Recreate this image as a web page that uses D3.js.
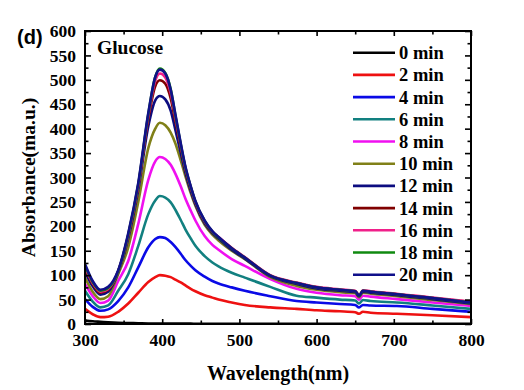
<!DOCTYPE html>
<html><head><meta charset="utf-8">
<script src="https://cdn.jsdelivr.net/npm/d3@7"></script>
<style>body{margin:0;background:#fff}svg{display:block}</style>
</head><body>
<svg id="c" width="524" height="390"></svg>
<script>
const wavelengths = [300,310,320,330,343,356,369,382,391,397,404,411,417,424,430,437,443,455,465,473,490,507,540,574,600,630,650,655,660,670,704,750,800];
const seriesNames = ["0 min","2 min","4 min","6 min","8 min","10 min","12 min","14 min","16 min","18 min","20 min"];
const seriesColors = ["#000000","#ee1111","#0a0ae6","#128080","#f010f0","#808018","#0c0c80","#800000","#f0208a","#108a10","#10108a"];
const s0  = [7,5.5,4.5,3.5,2.5,2,1.5,1,1,1,1,0.9,0.8,0.8,0.7,0.7,0.6,0.5,0.5,0.5,0.5,0.5,0.5,0.4,0.4,0.4,0.4,0.4,0.4,0.4,0.3,0.3,0.3];
const s2  = [31,20,14,15,25,42,64,86,96,100,99,96,91,85,79,72,67,59,54,50,44,39,34,31,28,26,24,21,25,23,21,18,14];
const s4  = [51,35,27,30,47,75,116,157,174,178,176,168,158,144,131,119,110,97,88,83,75,68,57,47,44,41,39,34,39,38,37,31,25];
const s6  = [68,46,34,38,68,102,160,225,253,262,259,249,234,213,194,175,160,139,126,118,105,95,76,58,54,50,48,42,49,47,44,38,31];
const s8  = [82,57,43,48,88,129,205,295,333,342,338,326,308,282,257,232,212,180,162,152,133,119,92,72,64,59,57,50,58,56,51,44,37];
const s10 = [95,66,51,57,102,157,250,360,400,412,407,392,370,335,303,268,242,203,183,171,150,133,96,78,70,65,63,55,64,62,57,49,41];
const s12 = [107,77,60,66,106,175,275,405,458,467,460,437,398,350,310,272,245,206,186,175,152,134,98,82,73,68,65,57,66,64,59,51,42];
const s14 = [114,82,64,70,108,180,282,420,487,499,492,462,416,362,317,278,249,209,188,177,155,136,99,84,75,70,67,58,68,66,61,53,45];
const s16 = [117,84,66,72,108,182,284,426,498,513,505,473,424,366,320,280,250,210,189,178,156,137,100,85,76,71,68,59,69,67,62,54,46];
const s18 = [120,86,68,74,108,183,286,430,506,523,514,481,428,368,321,281,251,211,189,177,155,136,99,84,75,70,67,58,68,66,61,53,44];
const s20 = [123,88,70,76,110,186,289,432,506,521,513,480,430,370,323,282,252,212,190,178,155,136,99,84,75,70,67,58,68,66,61,53,44];
const seriesValues = [s0,s2,s4,s6,s8,s10,s12,s14,s16,s18,s20];
const xTicks = [300,400,500,600,700,800];
const yTicks = [0,50,100,150,200,250,300,350,400,450,500,550,600];

const svg = d3.select("#c");
const L=85,R=471,T=31,B=324;
const x = d3.scaleLinear().domain([300,800]).range([L,R]);
const y = d3.scaleLinear().domain([0,600]).range([B,T]);
const serif = "'Liberation Serif','Times New Roman',serif";

svg.append("defs").append("clipPath").attr("id","clip")
  .append("rect").attr("x",L).attr("y",T).attr("width",R-L).attr("height",B-T);

const line = d3.line().x((d,i)=>x(wavelengths[i])).y(d=>y(d)).curve(d3.curveMonotoneX);
const g = svg.append("g").attr("clip-path","url(#clip)");
seriesValues.forEach((vals,k)=>{
  g.append("path").attr("d",line(vals)).attr("fill","none")
   .attr("stroke",seriesColors[k]).attr("stroke-width",2.6).attr("stroke-linejoin","round");
});

const minorX = d3.range(300,801,50);
const minorY = d3.range(0,601,25);
function axisStyle(sel){ sel.select(".domain").remove(); sel.selectAll("line").attr("stroke","#000").attr("stroke-width",1.6); }
const ax = svg.append("g").attr("transform",`translate(0,${B})`)
  .call(d3.axisBottom(x).tickValues(minorX).tickSize(-5).tickFormat(d=>xTicks.includes(d)?d:""));
ax.call(axisStyle);
ax.selectAll(".tick").filter(d=>!xTicks.includes(d)).select("line").attr("y2",-3.5);
ax.selectAll("text").attr("y",10).attr("dy","0.71em").style("font-family",serif).style("font-weight","bold").style("font-size","17.5px").attr("fill","#000");
const axT = svg.append("g").attr("transform",`translate(0,${T})`)
  .call(d3.axisTop(x).tickValues(minorX).tickSize(-5).tickFormat(""));
axT.call(axisStyle);
axT.selectAll(".tick").filter(d=>!xTicks.includes(d)).select("line").attr("y2",3.5);
const ay = svg.append("g").attr("transform",`translate(${L},0)`)
  .call(d3.axisLeft(y).tickValues(minorY).tickSize(-6).tickFormat(d=>yTicks.includes(d)?d:""));
ay.call(axisStyle);
ay.selectAll(".tick").filter(d=>!yTicks.includes(d)).select("line").attr("x2",3.5);
ay.selectAll("text").attr("x",-9).style("font-family",serif).style("font-weight","bold").style("font-size","17.5px").attr("fill","#000");
const ayR = svg.append("g").attr("transform",`translate(${R},0)`)
  .call(d3.axisRight(y).tickValues(minorY).tickSize(-6).tickFormat(""));
ayR.call(axisStyle);
ayR.selectAll(".tick").filter(d=>!yTicks.includes(d)).select("line").attr("x2",-3.5);

svg.append("rect").attr("x",L).attr("y",T).attr("width",R-L).attr("height",B-T)
  .attr("fill","none").attr("stroke","#000").attr("stroke-width",2);

svg.append("text").attr("x",(L+R)/2).attr("y",380).attr("text-anchor","middle")
  .style("font-family",serif).style("font-weight","bold").style("font-size","20px").text("Wavelength(nm)");
svg.append("text").attr("transform",`translate(35,${(T+B)/2}) rotate(-90)`).attr("text-anchor","middle")
  .style("font-family",serif).style("font-weight","bold").style("font-size","19.5px").text("Absorbance(ma.u.)");
svg.append("text").attr("x",17).attr("y",44)
  .style("font-family","'Liberation Sans',Arial,sans-serif").style("font-weight","bold").style("font-size","20px").text("(d)");
svg.append("text").attr("x",97).attr("y",54)
  .style("font-family",serif).style("font-weight","bold").style("font-size","19.5px").text("Glucose");

const leg = svg.append("g");
seriesNames.forEach((n,k)=>{
  const yy = 52.7 + k*22.2;
  leg.append("line").attr("x1",353).attr("x2",395).attr("y1",yy).attr("y2",yy)
    .attr("stroke",seriesColors[k]).attr("stroke-width",2.6);
  leg.append("text").attr("x",399).attr("y",yy).attr("dy","0.35em")
    .style("font-family",serif).style("font-weight","bold").style("font-size","18.5px").text(n);
});
</script>
</body></html>
